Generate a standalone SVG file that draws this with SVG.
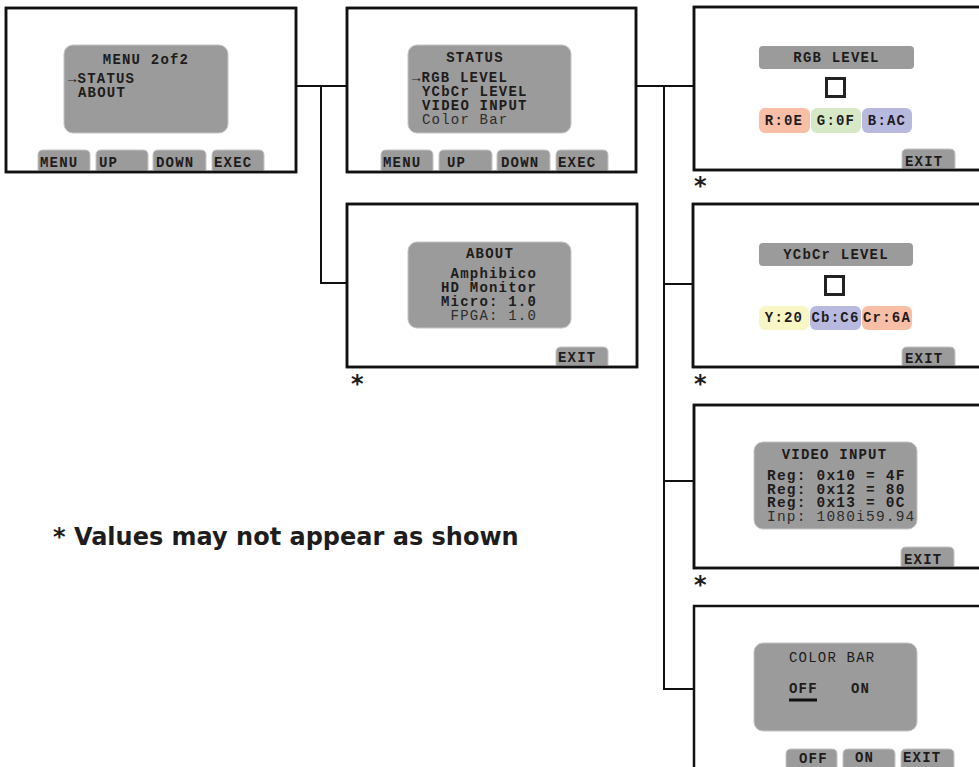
<svg xmlns="http://www.w3.org/2000/svg" width="979" height="767" viewBox="0 0 979 767">
<style>
.box{fill:#fff;stroke:#111;stroke-width:2.5}
.scr{fill:#9b9b9b;stroke:#c4c4c4;stroke-width:1}
.btn{fill:#9b9b9b;stroke:#c4c4c4;stroke-width:1}
.t{font-family:"Liberation Mono","Courier New",monospace;font-size:14px;letter-spacing:1.2px;font-weight:bold;fill:#1e1c1c}
.n{font-weight:normal;fill:#2e2c2c}
.m{text-anchor:middle}
.e{text-anchor:end}
.v{font-size:14.5px}
.ast{font-family:"DejaVu Sans",Verdana,sans-serif;font-size:24px;font-weight:bold;fill:#1e1c1c}
.note{font-family:"DejaVu Sans",Verdana,sans-serif;font-size:24px;font-weight:bold;fill:#1e1c1c}
.conn{fill:none;stroke:#111;stroke-width:2}
.sq{fill:none;stroke:#222;stroke-width:3}
</style>
<rect width="979" height="767" fill="#fff"/>
<g id="connectors">
<path class="conn" d="M296,86 H347"/>
<path class="conn" d="M321,86 V283 H347"/>
<path class="conn" d="M636,86 H694"/>
<path class="conn" d="M664,86 V689 H694"/>
<path class="conn" d="M664,284 H693"/>
<path class="conn" d="M664,481 H694"/>
</g>
<g id="menu2of2">
<rect class="box" x="6" y="8" width="290" height="164"/>
<rect class="scr" x="64" y="45" width="164" height="88" rx="9"/>
<text class="t m" x="146" y="64">MENU 2of2</text>
<text class="t" x="68" y="83">→STATUS</text>
<text class="t" x="78" y="97">ABOUT</text>
<path class="btn" d="M38,172 V155 Q38,150 43,150 H85 Q90,150 90,155 V172 Z"/>
<path class="btn" d="M96,172 V155 Q96,150 101,150 H143 Q148,150 148,155 V172 Z"/>
<path class="btn" d="M153,172 V155 Q153,150 158,150 H201 Q206,150 206,155 V172 Z"/>
<path class="btn" d="M212,172 V155 Q212,150 217,150 H259 Q264,150 264,155 V172 Z"/>
<rect x="6" y="8" width="290" height="164" fill="none" stroke="#111" stroke-width="2.5"/>
<text class="t" x="40" y="167">MENU</text>
<text class="t" x="99" y="167">UP</text>
<text class="t" x="156" y="167">DOWN</text>
<text class="t" x="214" y="167">EXEC</text>
</g>
<g id="status">
<rect class="box" x="347" y="8" width="289" height="164"/>
<rect class="scr" x="408" y="45" width="163" height="88" rx="9"/>
<text class="t m" x="475" y="62">STATUS</text>
<text class="t" x="412" y="82">→RGB LEVEL</text>
<text class="t" x="422" y="96">YCbCr LEVEL</text>
<text class="t" x="422" y="110">VIDEO INPUT</text>
<text class="t n" x="422" y="124">Color Bar</text>
<path class="btn" d="M381,172 V155 Q381,150 386,150 H428 Q433,150 433,155 V172 Z"/>
<path class="btn" d="M439,172 V155 Q439,150 444,150 H487 Q492,150 492,155 V172 Z"/>
<path class="btn" d="M497,172 V155 Q497,150 502,150 H545 Q550,150 550,155 V172 Z"/>
<path class="btn" d="M556,172 V155 Q556,150 561,150 H603 Q608,150 608,155 V172 Z"/>
<rect x="347" y="8" width="289" height="164" fill="none" stroke="#111" stroke-width="2.5"/>
<text class="t" x="383" y="167">MENU</text>
<text class="t" x="447" y="167">UP</text>
<text class="t" x="501" y="167">DOWN</text>
<text class="t" x="558" y="167">EXEC</text>
</g>
<g id="about">
<rect class="box" x="347" y="204" width="290" height="163"/>
<rect class="scr" x="408" y="242" width="163" height="86" rx="9"/>
<text class="t m" x="490" y="258">ABOUT</text>
<text class="t e" x="537" y="278">Amphibico</text>
<text class="t e" x="537" y="292">HD Monitor</text>
<text class="t e" x="537" y="306">Micro: 1.0</text>
<text class="t n e" x="537" y="320">FPGA: 1.0</text>
<path class="btn" d="M556,367 V352 Q556,347 561,347 H603 Q608,347 608,352 V367 Z"/>
<rect x="347" y="204" width="290" height="163" fill="none" stroke="#111" stroke-width="2.5"/>
<text class="t" x="558" y="362">EXIT</text>
<text class="ast" x="351" y="392">*</text>
</g>
<g id="rgblevel">
<rect class="box" x="694" y="7" width="300" height="163"/>
<rect x="759" y="46" width="155" height="23" rx="4" fill="#9b9b9b"/>
<text class="t m" x="836.5" y="62">RGB LEVEL</text>
<rect class="sq" x="826.5" y="78.5" width="18" height="18"/>
<rect x="759" y="108" width="51" height="25" rx="6" fill="#f9bfa6"/>
<rect x="811" y="108" width="50" height="25" rx="6" fill="#d6e8c6"/>
<rect x="862" y="108" width="50" height="25" rx="6" fill="#b8b9df"/>
<text class="t m" x="784" y="125">R:0E</text>
<text class="t m" x="836" y="125">G:0F</text>
<text class="t m" x="887" y="125">B:AC</text>
<path class="btn" d="M902,170 V154 Q902,149 907,149 H950 Q955,149 955,154 V170 Z"/>
<rect x="694" y="7" width="300" height="163" fill="none" stroke="#111" stroke-width="2.5"/>
<text class="t" x="905" y="166">EXIT</text>
<text class="ast" x="694" y="194">*</text>
</g>
<g id="ycbcrlevel">
<rect class="box" x="693" y="204" width="300" height="163"/>
<rect x="759" y="243" width="154" height="23" rx="4" fill="#9b9b9b"/>
<text class="t m" x="836" y="259">YCbCr LEVEL</text>
<rect class="sq" x="825.5" y="276.5" width="18" height="18"/>
<rect x="759" y="306" width="50" height="24" rx="6" fill="#f9f6c6"/>
<rect x="810" y="306" width="51" height="24" rx="6" fill="#b8b9df"/>
<rect x="862" y="306" width="50" height="24" rx="6" fill="#f9bfa6"/>
<text class="t m" x="784" y="322">Y:20</text>
<text class="t m" x="835.5" y="322">Cb:C6</text>
<text class="t m" x="887" y="322">Cr:6A</text>
<path class="btn" d="M902,367 V352 Q902,347 907,347 H950 Q955,347 955,352 V367 Z"/>
<rect x="693" y="204" width="300" height="163" fill="none" stroke="#111" stroke-width="2.5"/>
<text class="t" x="905" y="363">EXIT</text>
<text class="ast" x="694" y="392">*</text>
</g>
<g id="videoinput">
<rect class="box" x="694" y="405" width="300" height="163"/>
<rect class="scr" x="754" y="442" width="163" height="87" rx="9"/>
<text class="t m" x="834.5" y="459">VIDEO INPUT</text>
<text class="t v" x="767" y="480">Reg: 0x10 = 4F</text>
<text class="t v" x="767" y="493.5">Reg: 0x12 = 80</text>
<text class="t v" x="767" y="507">Reg: 0x13 = 0C</text>
<text class="t v n" x="767" y="521">Inp: 1080i59.94</text>
<path class="btn" d="M901,568 V552 Q901,547 906,547 H949 Q954,547 954,552 V568 Z"/>
<rect x="694" y="405" width="300" height="163" fill="none" stroke="#111" stroke-width="2.5"/>
<text class="t" x="904" y="564">EXIT</text>
<text class="ast" x="694" y="593">*</text>
</g>
<g id="colorbar">
<rect class="box" x="694" y="606" width="300" height="200"/>
<rect class="scr" x="754" y="643" width="163" height="88" rx="9"/>
<text class="t n" x="789" y="662" style="fill:#1e1c1c">COLOR BAR</text>
<text class="t" x="789" y="693">OFF</text>
<text class="t" x="851" y="693">ON</text>
<rect x="789" y="698.5" width="28" height="3" fill="#111"/>
<path class="btn" d="M786,770 V754 Q786,749 791,749 H832 Q837,749 837,754 V770 Z"/>
<path class="btn" d="M843,770 V754 Q843,749 848,749 H890 Q895,749 895,754 V770 Z"/>
<path class="btn" d="M901,770 V754 Q901,749 906,749 H949 Q954,749 954,754 V770 Z"/>
<text class="t" x="799" y="763">OFF</text>
<text class="t" x="855" y="762">ON</text>
<text class="t" x="903" y="762">EXIT</text>
</g>
<text class="note" x="53" y="545">* Values may not appear as shown</text>
</svg>
